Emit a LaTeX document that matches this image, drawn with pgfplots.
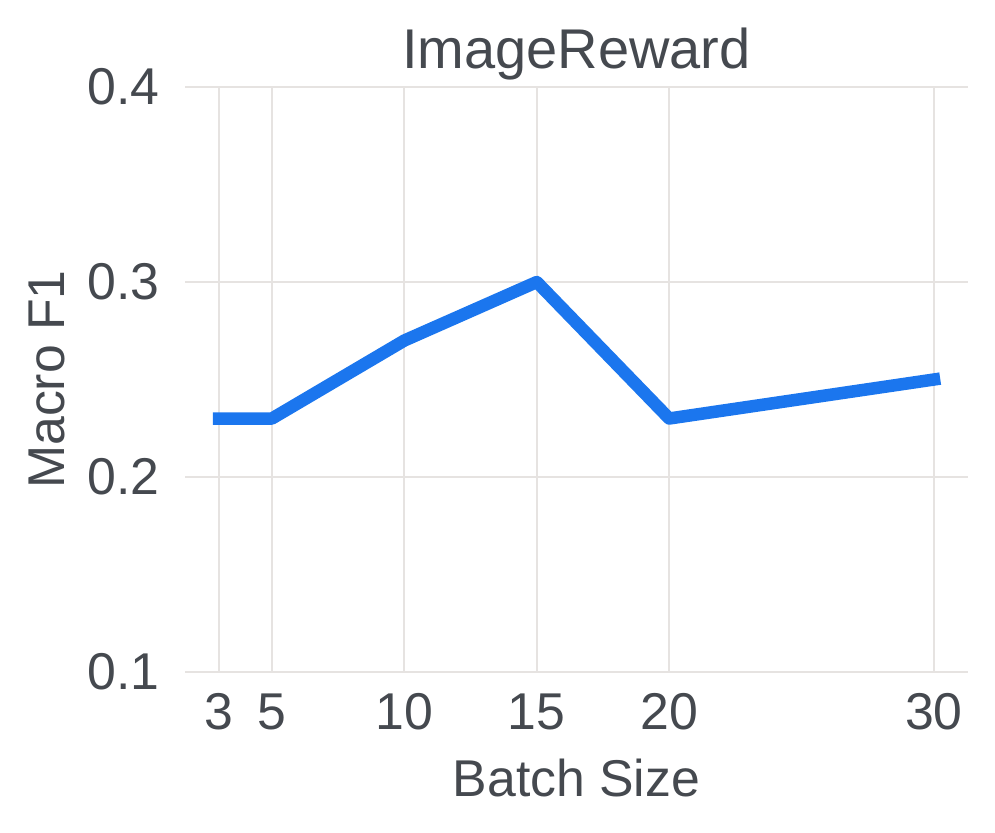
\documentclass[border=0pt]{standalone}
\usepackage{fontspec}
\setmainfont{Liberation Sans}
\usepackage{pgfplots}
\pgfplotsset{compat=1.18}

\definecolor{txt}{RGB}{69,73,79}
\definecolor{gridc}{RGB}{230,227,225}
\definecolor{lineblue}{RGB}{27,118,238}

\begin{document}
\begin{tikzpicture}
\begin{axis}[
    name=ax,
    scale only axis,
    width=313.2pt, height=234pt,
    xmin=1.716, xmax=31.284,
    ymin=0.1, ymax=0.4,
    xtick={3,5,10,15,20,30},
    ytick={0.1,0.2,0.3,0.4},
    yticklabel style={/pgf/number format/fixed, /pgf/number format/precision=1, /pgf/number format/fixed zerofill},
    /pgf/number format/assume math mode=true,
    axis line style={draw=none},
    major tick style={draw=none},
    grid=major,
    major grid style={draw=gridc, line width=0.8pt},
    font=\fontsize{20.7}{24}\selectfont,
    every tick label/.append style={text=txt, inner sep=0pt},
    xticklabel style={anchor=north, yshift=-8.4pt},
    yticklabel style={anchor=east, xshift=-10pt},
    title={ImageReward},
    title style={at={(axis description cs:0.5,1)}, anchor=base, yshift=1.6pt, inner sep=0pt, text=txt, font=\fontsize{22.4}{26}\selectfont},
    xlabel={Batch Size},
    xlabel style={at={(axis description cs:0.5,0)}, anchor=base, yshift=-49.6pt, inner sep=0pt, text=txt},
    ylabel={Macro F1},
    ylabel style={at={(axis description cs:-0.1533,0.5)}, rotate=0, anchor=base, inner sep=0pt, text=txt},
    clip=false,
]
\addplot[lineblue, line width=5pt, line join=round, line cap=rect] coordinates {
    (3,0.23) (5,0.23) (10,0.27) (15,0.30) (20,0.23) (30,0.25)
};
\end{axis}
\pgfresetboundingbox
\path[use as bounding box] ([xshift=-74pt,yshift=-64pt]ax.south west) rectangle ([xshift=10.8pt,yshift=34.8pt]ax.north east);
\end{tikzpicture}
\end{document}
